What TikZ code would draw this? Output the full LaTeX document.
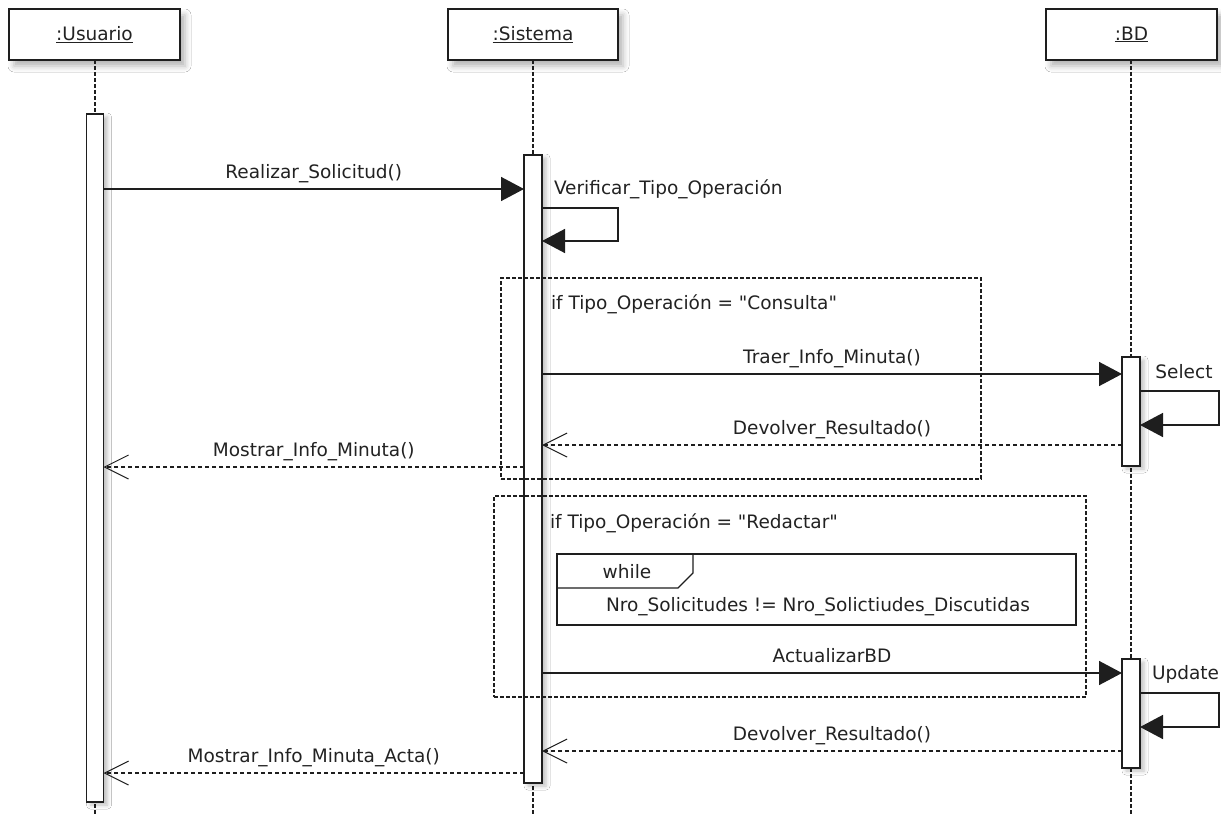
\documentclass[tikz,border=0pt]{standalone}
\usepackage{fontspec}
\setmainfont{DejaVu Sans}[Ligatures=TeXOff]
\usetikzlibrary{arrows.meta,shadows.blur}
\definecolor{ink}{HTML}{1E1E1E}
\definecolor{txt}{HTML}{222222}
\begin{document}
\begin{tikzpicture}[x=1pt,y=-1pt,
  font=\fontsize{18.5}{21}\selectfont, text=txt,
  every node/.append style={inner sep=0pt, outer sep=0pt},
  softshadow/.style={blur shadow={shadow xshift=5pt, shadow yshift=-6pt,
      shadow blur radius=6pt, shadow opacity=30}},
  head/.style={draw=ink, line width=1.8pt, fill=white, minimum width=171pt,
      minimum height=51pt, softshadow},
  actbar/.style={draw=ink, line width=1.4pt, fill=white, minimum width=17pt,
      blur shadow={shadow xshift=4pt, shadow yshift=-3pt, shadow blur radius=4pt, shadow opacity=25}},
  lifeline/.style={draw=ink, line width=1.2pt, dash pattern=on 4pt off 2pt},
  msg/.style={draw=ink, line width=1.5pt, -{Triangle[length=23pt,width=24pt]}},
  reply/.style={draw=ink, line width=1.3pt, dash pattern=on 4pt off 3pt,
      -{Straight Barb[length=24pt,width=24pt,line width=1pt]}},
  fragment/.style={draw=ink, line width=1.2pt, dash pattern=on 4pt off 2pt},
  mlabel/.style={midway, anchor=base, yshift=11pt},
]
\useasboundingbox (0,0) rectangle (1221,816);
\fill[white] (0,0) rectangle (1221,816);

% lifeline heads
\node[head] (u) at (94.5,34.5) {\underline{:Usuario}};
\node[head, minimum width=170pt] (s) at (533,34.5) {\underline{:Sistema}};
\node[head] (b) at (1131.5,34.5) {\underline{:BD}};

% lifelines
\draw[lifeline] (u.south -| 95,0) -- (95,816);
\draw[lifeline] (s.south) -- (s.south |- 0,816);
\draw[lifeline] (b.south -| 1131,0) -- (1131,816);

% activation bars
\node[actbar, minimum height=688pt] (au) at (95,458) {};
\node[actbar, minimum width=18pt, minimum height=628pt] (as) at (533,469) {};
\node[actbar, minimum width=18pt, minimum height=109pt] (ab1) at (1131,411.5) {};
\node[actbar, minimum width=18pt, minimum height=109pt] (ab2) at (1131,713.5) {};

% combined fragments
\node[fragment, minimum width=480pt, minimum height=201pt] (fc) at (741,378.5) {};
\node[anchor=base west] (fct) at (551,309.5) {if Tipo\_Operación = "Consulta"};
\node[fragment, minimum width=592pt, minimum height=201pt] (fr) at (790,596.5) {};
\node[anchor=base west] (frt) at (550,528.5) {if Tipo\_Operación = "Redactar"};

% while loop fragment
\node[draw=ink, line width=1.3pt, minimum width=519pt, minimum height=71pt] (wf) at (816.5,589.5) {};
\draw[ink, line width=1.3pt] (557,588) -- (678,588) -- (693,573) -- (693,554);
\node (wt) at (627,572) {while};
\node[anchor=base] (wc) at (818,611) {Nro\_Solicitudes != Nro\_Solictiudes\_Discutidas};

% messages
\draw[msg] (au.east |- 0,189) -- node[mlabel]{Realizar\_Solicitud()} (as.west |- 0,189);
\draw[msg] (as.east |- 0,208) -- (618,208) -- (618,241) -- (as.east |- 0,241);
\node[anchor=base west] (vt) at (554,194) {Verificar\_Tipo\_Operación};

\draw[msg] (as.east |- 0,374) -- node[mlabel]{Traer\_Info\_Minuta()} (ab1.west |- 0,374);
\draw[msg] (ab1.east |- 0,391) -- (1219,391) -- (1219,425) -- (ab1.east |- 0,425);
\node[anchor=base] (st) at (1184,378) {Select};
\draw[reply] (ab1.west |- 0,445) -- node[mlabel]{Devolver\_Resultado()} (as.east |- 0,445);
\draw[reply] (as.west |- 0,467) -- node[mlabel]{Mostrar\_Info\_Minuta()} (au.east |- 0,467);

\draw[msg] (as.east |- 0,673) -- node[mlabel]{ActualizarBD} (ab2.west |- 0,673);
\draw[msg] (ab2.east |- 0,693) -- (1219,693) -- (1219,727) -- (ab2.east |- 0,727);
\node[anchor=base] (ut) at (1185.5,679) {Update};
\draw[reply] (ab2.west |- 0,751) -- node[mlabel]{Devolver\_Resultado()} (as.east |- 0,751);
\draw[reply] (as.west |- 0,773) -- node[mlabel]{Mostrar\_Info\_Minuta\_Acta()} (au.east |- 0,773);
\end{tikzpicture}
\end{document}
